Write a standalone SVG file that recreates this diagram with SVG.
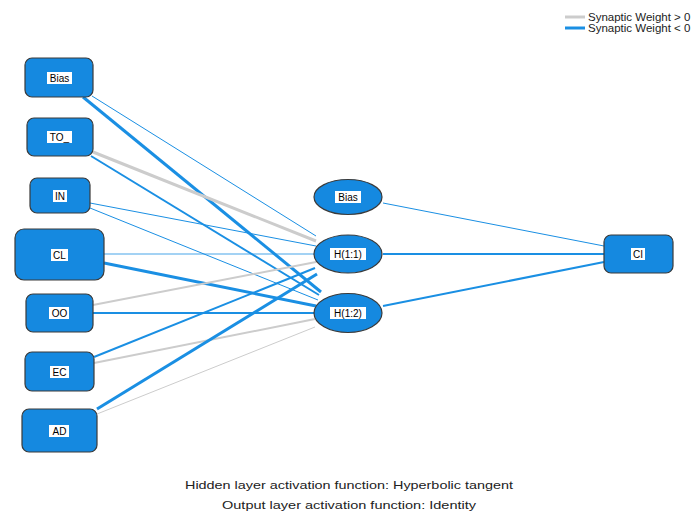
<svg xmlns="http://www.w3.org/2000/svg" width="694" height="511" viewBox="0 0 694 511">
<defs>
<style>
.node{fill:#1589e0;stroke:#3a3a3a;stroke-width:1.2}
.lb{fill:#ffffff}
.t{font-family:"Liberation Sans",Arial,sans-serif;font-size:10px;fill:#000;text-anchor:middle}
.neg{stroke:#1a8fe3;fill:none}
.pos{stroke:#cccccc;fill:none}
.w1{stroke-width:1}
.w2{stroke-width:2}
.w3{stroke-width:3}
.cap{font-family:"Liberation Sans",Arial,sans-serif;font-size:11.5px;fill:#222;text-anchor:middle}
.leg{font-family:"Liberation Sans",Arial,sans-serif;font-size:11.5px;fill:#222}
</style>
</defs>
<rect width="694" height="511" fill="#ffffff"/>
<g id="connectors">
<line class="neg w1" x1="92" y1="96" x2="316" y2="236"/>
<line class="neg w3" x1="83" y1="97" x2="321" y2="292"/>
<line class="pos w3" x1="93" y1="152" x2="316" y2="241"/>
<line class="neg w2" x1="91" y1="156" x2="319" y2="295"/>
<line class="neg w1" x1="90" y1="203" x2="316" y2="246"/>
<line class="neg w1" x1="90" y1="208" x2="318" y2="300"/>
<line class="neg w1" x1="104" y1="254" x2="316" y2="254" stroke-opacity="0.8"/>
<line class="neg w3" x1="104" y1="263" x2="316" y2="306"/>
<line class="pos w2" x1="93" y1="305" x2="316" y2="262"/>
<line class="neg w2" x1="93" y1="313" x2="316" y2="313"/>
<line class="neg w2" x1="94" y1="357" x2="315" y2="268"/>
<line class="pos w2" x1="94" y1="363" x2="315" y2="319"/>
<line class="neg w3" x1="97" y1="409" x2="317" y2="274"/>
<line class="pos w1" x1="97" y1="414" x2="315" y2="327"/>
<line class="neg w1" x1="383" y1="203" x2="604" y2="246"/>
<line class="neg w2" x1="383" y1="254" x2="604" y2="254"/>
<line class="neg w2" x1="383" y1="306" x2="604" y2="262"/>
</g>
<g id="legend">
<line class="pos" stroke-width="3" x1="565" y1="17" x2="585" y2="17"/>
<line class="neg" stroke-width="3" x1="565" y1="28" x2="585" y2="28"/>
<text class="leg" x="588" y="21">Synaptic Weight &gt; 0</text>
<text class="leg" x="588" y="32">Synaptic Weight &lt; 0</text>
</g>
<g id="in-bias">
<rect class="node" x="25" y="58" width="68" height="39" rx="7"/>
<rect class="lb" x="47" y="72" width="25" height="12"/>
<text class="t" x="59.5" y="82">Bias</text>
</g>
<g id="in-to">
<rect class="node" x="27" y="118" width="66" height="38" rx="7"/>
<rect class="lb" x="47" y="131" width="25" height="12"/>
<text class="t" x="59.5" y="141">TO_</text>
</g>
<g id="in-in">
<rect class="node" x="30" y="178" width="60" height="35" rx="7"/>
<rect class="lb" x="53" y="190" width="14" height="12"/>
<text class="t" x="60" y="200">IN</text>
</g>
<g id="in-cl">
<rect class="node" x="15" y="229" width="89" height="51" rx="9"/>
<rect class="lb" x="51" y="249" width="17" height="12"/>
<text class="t" x="59.5" y="259">CL</text>
</g>
<g id="in-oo">
<rect class="node" x="26" y="294" width="67" height="38" rx="7"/>
<rect class="lb" x="49" y="307" width="20" height="12"/>
<text class="t" x="59.5" y="317">OO</text>
</g>
<g id="in-ec">
<rect class="node" x="25" y="352" width="69" height="39" rx="7"/>
<rect class="lb" x="50" y="366" width="19" height="12"/>
<text class="t" x="59.5" y="376">EC</text>
</g>
<g id="in-ad">
<rect class="node" x="22" y="409" width="75" height="43" rx="7"/>
<rect class="lb" x="49" y="425" width="20" height="12"/>
<text class="t" x="59.5" y="435">AD</text>
</g>
<g id="hid-bias">
<ellipse class="node" cx="348" cy="197" rx="34" ry="17.5"/>
<rect class="lb" x="335" y="191" width="26" height="12"/>
<text class="t" x="348" y="201">Bias</text>
</g>
<g id="hid-h11">
<ellipse class="node" cx="348" cy="254" rx="34" ry="19"/>
<rect class="lb" x="330" y="248" width="36" height="12"/>
<text class="t" x="348" y="258">H(1:1)</text>
</g>
<g id="hid-h12">
<ellipse class="node" cx="348" cy="313" rx="34" ry="19.5"/>
<rect class="lb" x="330" y="307" width="36" height="12"/>
<text class="t" x="348" y="317">H(1:2)</text>
</g>
<g id="out-ci">
<rect class="node" x="604" y="235" width="69" height="38" rx="7"/>
<rect class="lb" x="631" y="248" width="14" height="12"/>
<text class="t" x="638" y="258">CI</text>
</g>
<g id="caption">
<text class="cap" x="349" y="489" textLength="328" lengthAdjust="spacingAndGlyphs">Hidden layer activation function: Hyperbolic tangent</text>
<text class="cap" x="349" y="509" textLength="254" lengthAdjust="spacingAndGlyphs">Output layer activation function: Identity</text>
</g>
</svg>
